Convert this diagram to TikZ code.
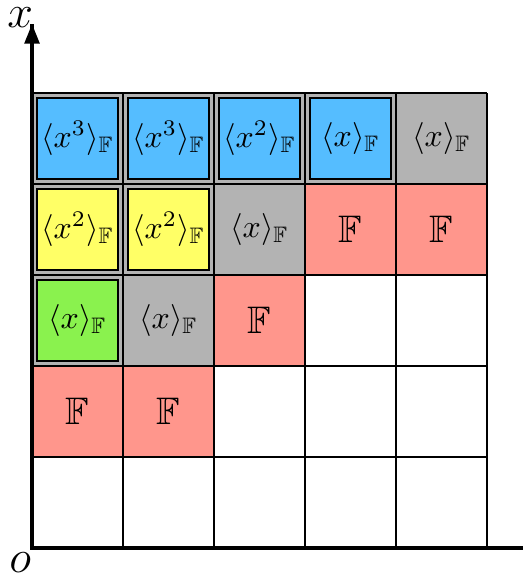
\documentclass[tikz,border=0pt]{standalone}
\usepackage{amsmath,amssymb}
\usepackage{tikz}
\usetikzlibrary{arrows.meta,positioning}
\usepackage{xcolor}

\definecolor{cellgray}{HTML}{B3B3B3}
\definecolor{cellred}{HTML}{FF968C}
\definecolor{cellblue}{HTML}{55BDFF}
\definecolor{cellyellow}{HTML}{FFFF66}
\definecolor{cellgreen}{HTML}{8AF24E}

\newcommand{\gen}[1]{$\langle #1\rangle_{\mathbb{F}}$}

\begin{document}
\begin{tikzpicture}[
  cell/.style={minimum size=1cm,inner sep=0pt,outer sep=0pt},
  fcell/.style={cell,fill=cellred,font=\large},
  inbox/.style={draw,line width=0.6pt,minimum size=0.89cm,inner sep=0pt},
  axis/.style={line width=1.1pt}
]
  \useasboundingbox (-0.352,-0.33) rectangle (5.395,6.022);

  % gray cells (also the backs of the framed ones)
  \foreach \i in {0,...,4} \node[cell,fill=cellgray] (g\i4) at (\i+0.5,4.5) {};
  \node[cell,fill=cellgray] (g03) at (0.5,3.5) {};
  \node[cell,fill=cellgray] (g13) at (1.5,3.5) {};
  \node[cell,fill=cellgray] (g23) at (2.5,3.5) {\gen{x}};
  \node[cell,fill=cellgray] (g02) at (0.5,2.5) {};
  \node[cell,fill=cellgray] (g12) at (1.5,2.5) {\gen{x}};
  \node at (g44) {\gen{x}};

  % F cells
  \node[fcell] (r33) at (3.5,3.5) {$\mathbb{F}$};
  \node[fcell] (r43) at (4.5,3.5) {$\mathbb{F}$};
  \node[fcell] (r22) at (2.5,2.5) {$\mathbb{F}$};
  \node[fcell] (r01) at (0.5,1.5) {$\mathbb{F}$};
  \node[fcell] (r11) at (1.5,1.5) {$\mathbb{F}$};

  \draw[line width=0.5pt] (0,0) grid (5,5);

  % framed cells
  \node[inbox,fill=cellblue] (b04) at (g04) {\gen{x^3}};
  \node[inbox,fill=cellblue] (b14) at (g14) {\gen{x^3}};
  \node[inbox,fill=cellblue] (b24) at (g24) {\gen{x^2}};
  \node[inbox,fill=cellblue] (b34) at (g34) {\gen{x}};
  \node[inbox,fill=cellyellow] (y03) at (g03) {\gen{x^2}};
  \node[inbox,fill=cellyellow] (y13) at (g13) {\gen{x^2}};
  \node[inbox,fill=cellgreen] (e02) at (g02) {\gen{x}};

  % axes
  \coordinate (o) at (0,0);
  \coordinate (xtop) at (0,5.76);
  \coordinate (xend) at (5.4,0);
  \draw[axis] (xend) -- (o) -- (xtop);
  \draw[axis,-{Triangle[width=4.6pt,length=6.2pt]}] (o) -- (xtop);
  \node[font=\Large,inner sep=0pt] (xlab) at (-0.13,5.83) {$x$};
  \node[font=\Large,inner sep=0pt] (olab) at (-0.13,-0.16) {$o$};
\end{tikzpicture}
\end{document}
